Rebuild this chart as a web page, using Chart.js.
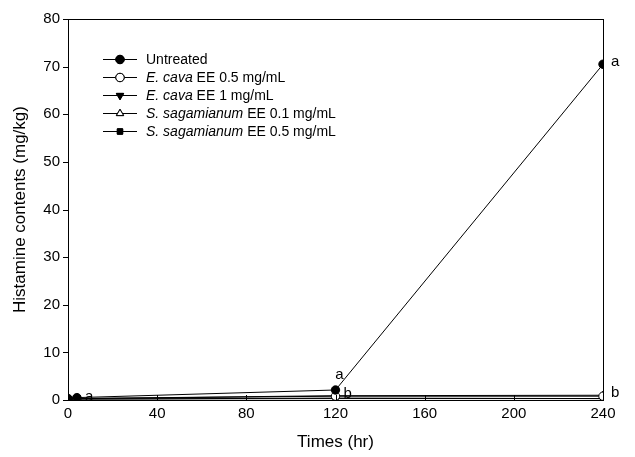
<!DOCTYPE html>
<html lang="en">
  <head>
    <meta charset="UTF-8" />
    <title>Histamine contents</title>
    <style>
      html, body { margin: 0; padding: 0; background: #fff; }
      #wrap { width: 635px; height: 457px; }
    </style>
  </head>
  <body>
    <div id="wrap">
      <canvas id="myChart" width="635" height="457"></canvas>
    </div>
    <script src="https://cdn.jsdelivr.net/npm/chart.js"></script>
    <script>
      // data
      const times = [0, 4, 120, 240];
      const untreated = [0.3, 0.5, 2.1, 70.5];
      const ecava05 = [0.2, 0.3, 0.8, 0.8];
      const ecava1 = [0.1, 0.2, 0.4, 0.3];
      const ssag01 = [0.2, 0.3, 0.9, 1.0];
      const ssag05 = [0.1, 0.2, 0.3, 0.3];
      const xTicks = [0, 40, 80, 120, 160, 200, 240];
      const yTicks = [0, 10, 20, 30, 40, 50, 60, 70, 80];
      // significance letters: [time, value, text, position]
      const letters = [
        [4, 0.3, 'a', 'right'],
        [120, 2.1, 'a', 'above'],
        [120, 0.8, 'b', 'right'],
        [240, 70.5, 'a', 'right'],
        [240, 1.0, 'b', 'right'],
      ];

      const FONT = '"Liberation Sans", Arial, sans-serif';

      const toPoints = (vals) => vals.map((v, i) => ({ x: times[i], y: v }));

      const series = [
        { label: ['', 'Untreated'], data: untreated, style: 'circle', fill: '#000', rot: 0 },
        { label: ['E. cava', ' EE 0.5 mg/mL'], data: ecava05, style: 'circle', fill: '#fff', rot: 0 },
        { label: ['E. cava', ' EE 1 mg/mL'], data: ecava1, style: 'triangle', fill: '#000', rot: 180 },
        { label: ['S. sagamianum', ' EE 0.1 mg/mL'], data: ssag01, style: 'triangle', fill: '#fff', rot: 0 },
        { label: ['S. sagamianum', ' EE 0.5 mg/mL'], data: ssag05, style: 'rect', fill: '#000', rot: 0 },
      ];

      const radiusFor = (s) => (s.style === 'rect' ? 3.8 : 4.2);

      const datasets = series.map((s) => ({
        label: s.label.join(''),
        data: toPoints(s.data),
        borderColor: '#000',
        borderWidth: 1,
        pointStyle: s.style,
        pointRotation: s.rot,
        pointRadius: radiusFor(s),
        pointBackgroundColor: s.fill,
        pointBorderColor: '#000',
        pointBorderWidth: 1,
        fill: false,
        tension: 0,
      }));

      const framePlugin = {
        id: 'frame',
        afterDraw(chart) {
          const { ctx, chartArea: a, scales } = chart;
          ctx.save();
          ctx.strokeStyle = '#000';
          ctx.lineWidth = 1;
          ctx.strokeRect(a.left + 0.5, a.top + 0.5, a.right - a.left, a.bottom - a.top);
          // inward x ticks
          ctx.beginPath();
          xTicks.forEach((t) => {
            const px = Math.round(scales.x.getPixelForValue(t)) + 0.5;
            ctx.moveTo(px, a.bottom);
            ctx.lineTo(px, a.bottom - 5);
          });
          // outward y ticks
          yTicks.forEach((t) => {
            const py = Math.round(scales.y.getPixelForValue(t)) + 0.5;
            ctx.moveTo(a.left, py);
            ctx.lineTo(a.left - 5, py);
          });
          ctx.stroke();

          // letters
          ctx.fillStyle = '#000';
          ctx.font = '15px ' + FONT;
          ctx.textBaseline = 'middle';
          letters.forEach(([t, v, txt, pos]) => {
            const px = scales.x.getPixelForValue(t);
            const py = scales.y.getPixelForValue(v);
            if (pos === 'above') {
              ctx.textAlign = 'center';
              ctx.fillText(txt, px + 4, py - 15);
            } else {
              ctx.textAlign = 'left';
              ctx.fillText(txt, px + 8, py - 2);
            }
          });

          // legend
          const lx0 = 103, lx1 = 137, tx = 146;
          let ly = 59;
          series.forEach((s) => {
            ctx.beginPath();
            ctx.moveTo(lx0, ly + 0.5);
            ctx.lineTo(lx1, ly + 0.5);
            ctx.stroke();
            Chart.helpers.drawPoint(ctx, {
              pointStyle: s.style,
              rotation: s.rot,
              radius: radiusFor(s),
              borderWidth: 1,
            }, (lx0 + lx1) / 2, ly + 0.5);
            ctx.fillStyle = s.fill;
            ctx.fill();
            ctx.stroke();
            ctx.fillStyle = '#000';
            ctx.textAlign = 'left';
            let x = tx;
            if (s.label[0]) {
              ctx.font = 'italic 14px ' + FONT;
              ctx.fillText(s.label[0], x, ly + 1);
              x += ctx.measureText(s.label[0]).width;
            }
            ctx.font = '14px ' + FONT;
            ctx.fillText(s.label[1], x, ly + 1);
            ly += 18;
          });
          ctx.restore();
        },
      };

      const config = {
        type: 'line',
        data: { datasets: datasets },
        plugins: [framePlugin],
        options: {
          responsive: false,
          animation: false,
          layout: { padding: { top: 19, right: 32, left: 0, bottom: 0 } },
          plugins: { legend: { display: false }, tooltip: { enabled: false } },
          scales: {
            x: {
              type: 'linear',
              min: 0,
              max: 240,
              afterBuildTicks: (scale) => { scale.ticks = xTicks.map((v) => ({ value: v })); },
              afterFit: (scale) => { scale.height = 57; },
              grid: { display: false, drawTicks: false },
              border: { display: false },
              ticks: { color: '#000', font: { family: FONT, size: 15 }, padding: 5 },
              title: { display: true, text: 'Times (hr)', color: '#000', font: { family: FONT, size: 17 }, padding: { top: 9 } },
            },
            y: {
              type: 'linear',
              min: 0,
              max: 80,
              afterBuildTicks: (scale) => { scale.ticks = yTicks.map((v) => ({ value: v })); },
              afterFit: (scale) => { scale.width = 68; },
              grid: { display: false, drawTicks: false },
              border: { display: false },
              ticks: { color: '#000', font: { family: FONT, size: 15 }, padding: 8 },
              title: { display: true, text: 'Histamine contents (mg/kg)', color: '#000', font: { family: FONT, size: 17 }, padding: { top: 10, bottom: 4 } },
            },
          },
        },
      };

      new Chart(document.getElementById('myChart'), config);
    </script>
  </body>
</html>
